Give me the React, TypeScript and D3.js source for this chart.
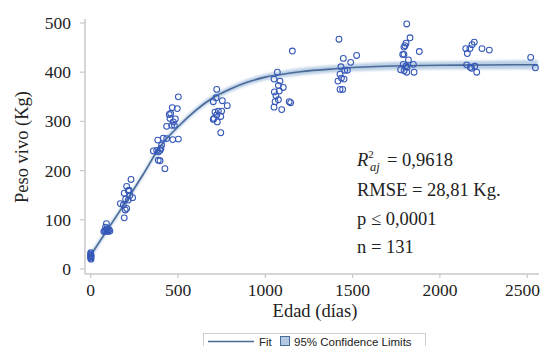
import React from "react";
import * as d3 from "d3";

// Observed data: age (days) and live weight (kg)
const ageDays: number[] = [
  0, 0, 0, 0, 0, 2, 3, 1,
  75, 80, 85, 90, 95, 100, 85, 90, 110, 105, 95,
  170, 192, 198, 206, 192, 215, 231, 225, 240, 206, 215, 187, 220, 200,
  425, 387, 397, 359, 378, 397, 387, 406, 384, 416, 435, 470, 502, 402,
  435, 464, 479, 473, 454, 458, 450, 467, 496, 502, 485,
  722, 702, 718, 754, 782, 712, 731, 750, 722, 745, 702, 706, 725, 745,
  1069, 1050, 1084, 1075, 1103, 1052, 1061, 1075, 1056, 1050, 1094, 1137, 1145, 1155, 1080,
  1422, 1447, 1523, 1489, 1433, 1470, 1455, 1428, 1451, 1416, 1428, 1443, 1436,
  1810, 1829, 1806, 1800, 1794, 1794, 1787, 1882, 1790, 1806, 1848, 1812, 1775, 1795, 1810, 1852, 1820,
  2197, 2184, 2172, 2148, 2157, 2241, 2283, 2153, 2182, 2211, 2174, 2200,
  2520, 2547,
];
const weightKg: number[] = [
  22, 25, 28, 30, 33, 20, 27, 24,
  76, 78, 77, 80, 77, 76, 85, 92, 77, 80, 82,
  133, 104, 120, 168, 154, 159, 182, 150, 145, 123, 140, 130, 160, 142,
  204, 221, 220, 240, 241, 241, 238, 252, 262, 266, 265, 263, 264, 245,
  290, 292, 292, 299, 306, 316, 314, 328, 326, 350, 305,
  365, 340, 348, 342, 332, 319, 321, 321, 313, 310, 304, 306, 299, 277,
  400, 386, 382, 373, 369, 360, 352, 344, 340, 329, 324, 340, 338, 443, 362,
  467, 428, 434, 420, 411, 404, 404, 396, 386, 382, 365, 365, 388,
  498, 470, 459, 454, 451, 436, 436, 442, 416, 413, 416, 410, 405, 403, 400, 400, 425,
  461, 456, 448, 448, 438, 448, 445, 415, 408, 400, 410, 412,
  430, 409,
];

// Fitted curve
const fitDays: number[] = [0, 100, 200, 300, 400, 500, 600, 700, 800, 900, 1000, 1100, 1200, 1400, 1600, 1800, 2000, 2200, 2400, 2560];
const fitKg: number[] = [28, 82, 136, 192, 250, 289, 322, 348, 366, 380, 390, 396, 401, 407, 411, 413, 414, 414.5, 415, 415];
const ciHalfKg: number[] = [7, 6, 5.5, 5.5, 5.5, 5.5, 5.5, 6, 6, 6, 6.5, 6.5, 7, 7, 7.5, 8, 8, 8.5, 9, 9.5];

const xTicks: number[] = [0, 500, 1000, 1500, 2000, 2500];
const yTicks: number[] = [0, 100, 200, 300, 400, 500];

const W = 541;
const H = 346;

export default function App() {
  const x = d3.scaleLinear().domain([0, 2500]).range([90.7, 527.2]);
  const y = d3.scaleLinear().domain([0, 500]).range([269, 23]);

  const axisX0 = 85;
  const axisX1 = 539;
  const axisY0 = 274;
  const axisY1 = 19;

  const fitPts = fitDays.map((d, i) => [d, fitKg[i], ciHalfKg[i]] as [number, number, number]);
  const line = d3
    .line<[number, number, number]>()
    .x((d) => x(d[0]))
    .y((d) => y(d[1]))
    .curve(d3.curveMonotoneX);
  const area = d3
    .area<[number, number, number]>()
    .x((d) => x(d[0]))
    .y0((d) => y(d[1] - d[2]))
    .y1((d) => y(d[1] + d[2]))
    .curve(d3.curveMonotoneX);

  const axisColor = "#c9c9c9";
  const textColor = "#222";
  const serif = "'Liberation Serif', 'Times New Roman', serif";
  const sans = "'Liberation Sans', Arial, sans-serif";

  const annX = 357;
  const annSize = 18.5;

  return (
    <svg
      width={W}
      height={H}
      viewBox={`0 0 ${W} ${H}`}
      style={{ position: "absolute", left: 0, top: 0, background: "#fff" }}
    >
      <defs>
        <filter id="soft" x="-5%" y="-50%" width="110%" height="200%">
          <feGaussianBlur stdDeviation="0.9" />
        </filter>
      </defs>
      <rect x={0} y={0} width={W} height={H} fill="#fff" />
      {/* axes */}
      <line x1={axisX0} y1={axisY1} x2={axisX0} y2={axisY0} stroke={axisColor} strokeWidth={1.5} />
      <line x1={axisX0} y1={axisY0} x2={axisX1} y2={axisY0} stroke={axisColor} strokeWidth={1.5} />
      {yTicks.map((t) => (
        <g key={"y" + t}>
          <line x1={axisX0 - 5} x2={axisX0} y1={y(t)} y2={y(t)} stroke={axisColor} strokeWidth={1.2} />
          <text
            x={71}
            y={y(t)}
            dy="0.34em"
            textAnchor="end"
            fontFamily={serif}
            fontSize={17.5}
            fill={textColor}
          >
            {t}
          </text>
        </g>
      ))}
      {xTicks.map((t, i) => (
        <g key={"x" + t}>
          <line x1={x(t)} x2={x(t)} y1={axisY0} y2={axisY0 + 4} stroke={axisColor} strokeWidth={1.2} />
          <text
            x={i === xTicks.length - 1 ? 540 : x(t)}
            y={296}
            textAnchor={i === xTicks.length - 1 ? "end" : "middle"}
            fontFamily={serif}
            fontSize={17.5}
            fill={textColor}
          >
            {t}
          </text>
        </g>
      ))}
      <text
        transform={`translate(28,147) rotate(-90)`}
        textAnchor="middle"
        fontFamily={serif}
        fontSize={18.5}
        fill={textColor}
      >
        Peso vivo (Kg)
      </text>
      <text x={315} y={317} textAnchor="middle" fontFamily={serif} fontSize={18.5} fill={textColor}>
        Edad (días)
      </text>

      {/* confidence band and fit */}
      <path d={area(fitPts) ?? ""} fill="#b3c9e2" fillOpacity={0.9} filter="url(#soft)" />
      <path d={line(fitPts) ?? ""} fill="none" stroke="#4a6a98" strokeWidth={1.6} />

      {/* observations */}
      {ageDays.map((a, i) => (
        <circle
          key={i}
          cx={x(a)}
          cy={y(weightKg[i])}
          r={2.9}
          fill="none"
          stroke="#3558b8"
          strokeWidth={1.05}
        />
      ))}

      {/* annotations */}
      <text x={annX} y={166} fontFamily={serif} fontSize={annSize} fill={textColor}>
        <tspan fontStyle="italic">R</tspan>
        <tspan fontSize={11} dy={-8}>2</tspan>
      </text>
      <text x={annX + 13} y={171} fontFamily={serif} fontSize={12.5} fontStyle="italic" fill={textColor}>
        aj
      </text>
      <text x={annX + 30} y={166} fontFamily={serif} fontSize={annSize} fill={textColor}>
        = 0,9618
      </text>
      <text x={annX} y={196} fontFamily={serif} fontSize={annSize} fill={textColor}>
        RMSE = 28,81 Kg.
      </text>
      <text x={annX} y={225} fontFamily={serif} fontSize={annSize} fill={textColor}>
        p ≤ 0,0001
      </text>
      <text x={annX} y={253} fontFamily={serif} fontSize={annSize} fill={textColor}>
        n = 131
      </text>

      {/* legend */}
      <rect x={203.5} y={333.5} width={222} height={20} fill="#fff" stroke="#cfcfcf" strokeWidth={1} />
      <line x1={208} x2={254} y1={341.5} y2={341.5} stroke="#4a6a98" strokeWidth={1.6} />
      <text x={259} y={345.5} fontFamily={sans} fontSize={11.5} fill={textColor}>
        Fit
      </text>
      <rect x={280.5} y={336.5} width={9} height={9} fill="#b3c9e2" stroke="#4a6a98" strokeWidth={1} />
      <text x={294} y={345.5} fontFamily={sans} fontSize={11.5} fill={textColor}>
        95% Confidence Limits
      </text>
    </svg>
  );
}
